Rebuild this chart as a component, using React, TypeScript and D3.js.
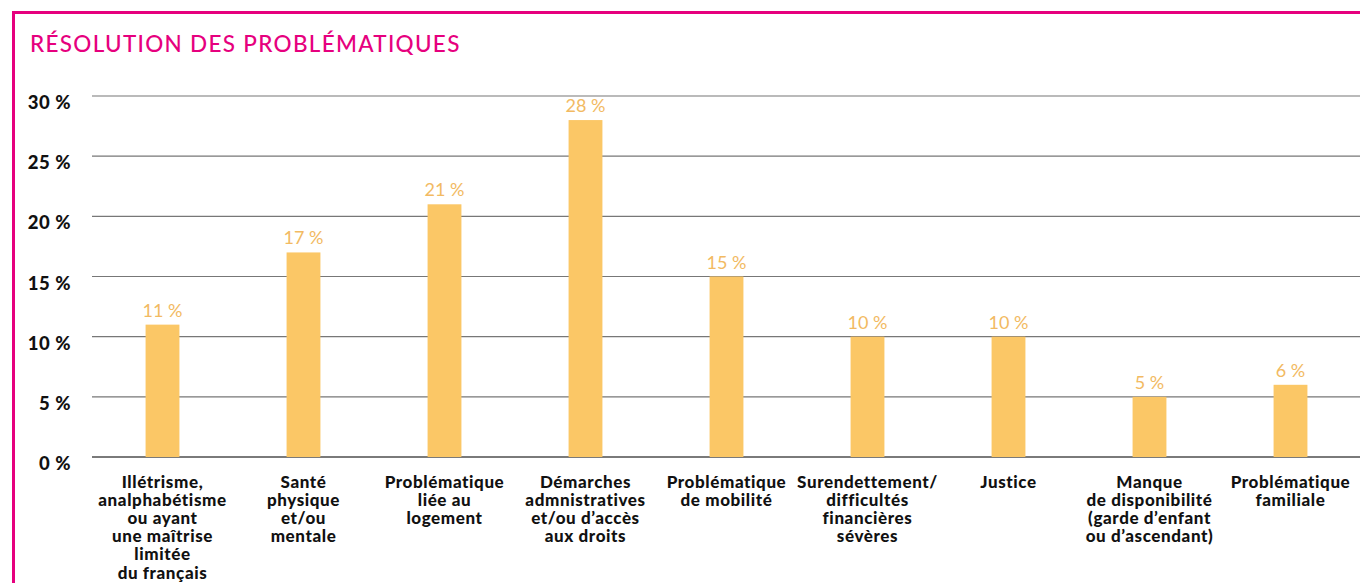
import React from "react";
import { scaleBand, scaleLinear } from "d3";

const categories = [
  ["Illétrisme,", "analphabétisme", "ou ayant", "une maîtrise", "limitée", "du français"],
  ["Santé", "physique", "et/ou", "mentale"],
  ["Problématique", "liée au", "logement"],
  ["Démarches", "admnistratives", "et/ou d’accès", "aux droits"],
  ["Problématique", "de mobilité"],
  ["Surendettement/", "difficultés", "financières", "sévères"],
  ["Justice"],
  ["Manque", "de disponibilité", "(garde d’enfant", "ou d’ascendant)"],
  ["Problématique", "familiale"],
];
const values = [11, 17, 21, 28, 15, 10, 10, 5, 6];
const yTicks = [0, 5, 10, 15, 20, 25, 30];

const PINK = "#E6007E";
const BAR = "#FBC766";
const LABEL = "#F2BA62";
const FONT = "Lato, 'Open Sans', sans-serif";

const App = () => {
  const width = 1360;
  const height = 583;
  const margin = { left: 92, right: -1, top: 96, bottom: 126 };
  const innerBottom = height - margin.bottom;

  const keys = categories.map((_, i) => String(i));

  const xScale = scaleBand()
    .domain(keys)
    .range([margin.left, width - margin.right])
    .paddingInner(0.76)
    .paddingOuter(0.38);

  const yScale = scaleLinear().domain([0, 30]).range([innerBottom, margin.top]);

  return (
    <svg
      width={width}
      height={height}
      style={{ position: "absolute", left: 0, top: 0, background: "#fff" }}
      fontFamily={FONT}
    >
      {/* pink frame */}
      <line x1={12} x2={width} y1={12.5} y2={12.5} stroke={PINK} strokeWidth={3} />
      <line x1={13.5} x2={13.5} y1={11} y2={height} stroke={PINK} strokeWidth={3} />

      <text x={30} y={52} fill={PINK} fontSize={22.5} fontWeight={500} letterSpacing={1.3}>
        RÉSOLUTION DES PROBLÉMATIQUES
      </text>

      {/* grid + y labels */}
      {yTicks.map((t) => (
        <g key={t}>
          <line
            x1={margin.left}
            x2={width}
            y1={yScale(t)}
            y2={yScale(t)}
            stroke={t === 0 ? "#7a7a7a" : "#777"}
            strokeWidth={t === 0 ? 2 : 1.2}
          />
          <text
            x={71}
            y={yScale(t) + 13}
            textAnchor="end"
            fontSize={18.5}
            fontWeight={900}
            letterSpacing={0.5}
            fill="#111"
          >
            {t} %
          </text>
        </g>
      ))}

      {/* bars */}
      {values.map((v, i) => {
        const x = xScale(String(i)) ?? 0;
        const bw = xScale.bandwidth();
        return (
          <g key={i}>
            <rect
              x={x}
              y={yScale(v)}
              width={bw}
              height={innerBottom - yScale(v)}
              fill={BAR}
            />
            <text
              x={x + bw / 2}
              y={yScale(v) - 8}
              textAnchor="middle"
              fontSize={18}
              fill={LABEL}
            >
              {v} %
            </text>
          </g>
        );
      })}

      {/* category labels */}
      {categories.map((lines, i) => {
        const cx = (xScale(String(i)) ?? 0) + xScale.bandwidth() / 2;
        return (
          <text
            key={i}
            x={cx}
            y={487.5}
            textAnchor="middle"
            fontSize={17}
            fontWeight={900}
            letterSpacing={0.6}
            fill="#111"
          >
            {lines.map((l, j) => (
              <tspan key={j} x={cx} dy={j === 0 ? 0 : 18.2}>
                {l}
              </tspan>
            ))}
          </text>
        );
      })}
    </svg>
  );
};

export default App;
